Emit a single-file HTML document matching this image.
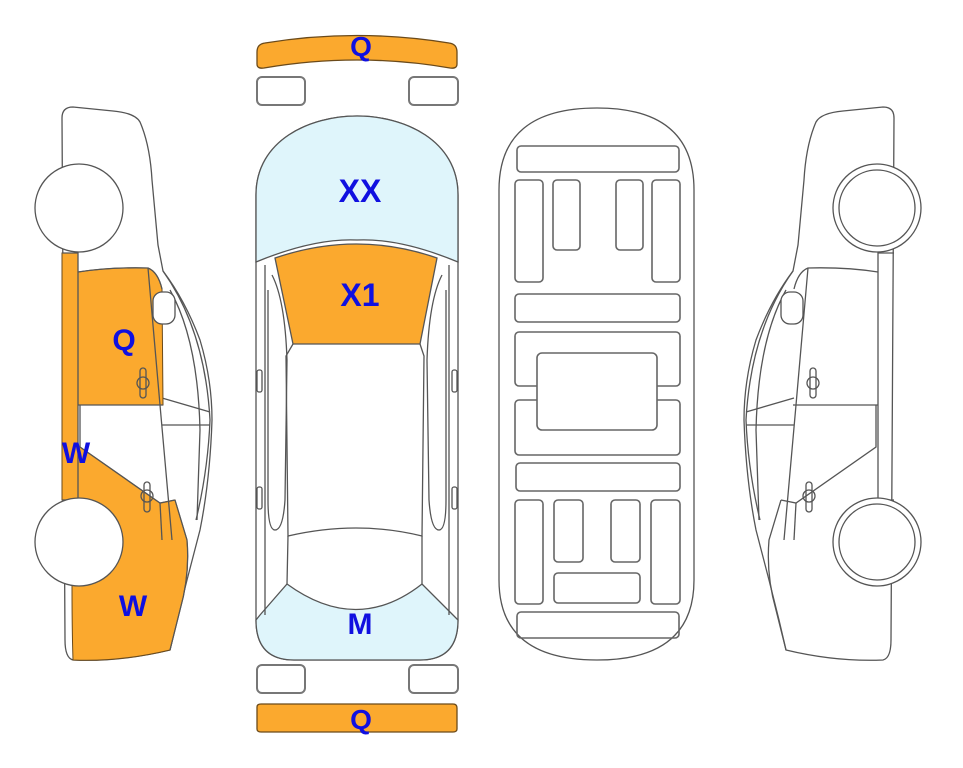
<!DOCTYPE html>
<html><head><style>
html,body{margin:0;padding:0;background:#fff;}
svg{display:block;}
text{font-family:"Liberation Sans",Arial,sans-serif;font-weight:bold;fill:#1010e0;text-anchor:middle;}
</style></head><body>
<svg width="963" height="768" viewBox="0 0 963 768" xmlns="http://www.w3.org/2000/svg">
<defs>
<g id="panels">
<path d="M62,253 L78,253 L78,500 M62,500 L78,500"/>
<path d="M78,272 Q110,267 148,268 Q158,272 162,289 M148,268 L160,405 L172,540 M78,405 L163,405 M80,405 L80,447 L160,503 L175,500"/>
<path d="M175,500 L187,540 Q190,575 180,610 L170,650"/>
<path d="M160,503 L162,540"/>
<rect x="140" y="368" width="6" height="30" rx="3"/>
<circle cx="143" cy="383" r="6"/>
<rect x="144" y="482" width="6" height="30" rx="3"/>
<circle cx="147" cy="496" r="6"/>
<rect x="153" y="292" width="22" height="32" rx="9" fill="#fff"/>
</g>
<g id="side">
<path d="M62,118 Q62,107 73,107 L113,111 Q135,113 140,122 Q150,145 152,180 L158,245 L163,271 Q185,300 200,340 Q212,380 212,420 Q210,480 200,530 L187,580 L177,620 L170,650 Q120,662 73,660 Q65,658 65,640 Z" fill="#fff"/>
<path d="M163,271 Q205,330 210,420 Q208,470 196,520"/>
<path d="M170,290 Q198,340 200,430 L197,520"/>
<path d="M162,398 L210,412 M162,425 L210,425"/>
</g>
</defs>
<g stroke="#555" stroke-width="1.3" fill="none">
<!-- bumpers -->
<path d="M257,52 Q257,44 265,43 Q357,28 449,43 Q457,44 457,52 L457,64 Q457,69 450,68 Q357,52 264,68 Q257,69 257,64 Z" fill="#fba92e" stroke="#6b4a1a"/>
<path d="M257,707 Q257,704 261,704 L453,704 Q457,704 457,708 L457,729 Q457,732 453,732 L261,732 Q257,732 257,729 Z" fill="#fba92e" stroke="#6b4a1a"/>
<rect x="257" y="77" width="48" height="28" rx="5" stroke="#777" stroke-width="2"/>
<rect x="409" y="77" width="49" height="28" rx="5" stroke="#777" stroke-width="2"/>
<rect x="257" y="665" width="48" height="28" rx="5" stroke="#777" stroke-width="2"/>
<rect x="409" y="665" width="49" height="28" rx="5" stroke="#777" stroke-width="2"/>

<!-- center car -->
<path d="M256,195 C256,140 310,116 357,116 C404,116 458,140 458,195 L458,620 Q458,660 420,660 L294,660 Q256,660 256,620 Z" fill="#fff"/>
<path d="M256,195 C256,140 310,116 357,116 C404,116 458,140 458,195 L458,262 Q400,238 357,240 Q314,238 256,262 Z" fill="#dff5fb"/>
<path d="M275,258 Q357,230 437,258 L420,344 L293,344 Z" fill="#fba92e"/>
<path d="M260,615 L287,584 Q357,635 422,584 L453,615 L458,620 Q458,660 420,660 L294,660 Q256,660 256,620 Z" fill="#dff5fb"/>
<path d="M293,344 L286,356 L288,536 Q357,520 422,536 L424,356 L420,344"/>
<path d="M288,536 L287,584 M422,536 L422,584"/>
<path d="M265,265 L265,615 M449,265 L449,615"/>
<path d="M272,275 Q285,300 287,360 L285,500 Q283,530 275,530 Q268,530 268,500 L268,290"/>
<path d="M442,275 Q429,300 427,360 L429,500 Q431,530 439,530 Q446,530 446,500 L446,290"/>
<rect x="257" y="370" width="5" height="22" rx="2"/>
<rect x="452" y="370" width="5" height="22" rx="2"/>
<rect x="257" y="487" width="5" height="22" rx="2"/>
<rect x="452" y="487" width="5" height="22" rx="2"/>

<!-- chassis -->
<path d="M499,190 Q499,108 597,108 Q694,108 694,190 L694,580 Q694,660 597,660 Q499,660 499,580 Z" fill="#fff"/>
<g stroke="#666" stroke-width="1.6">
<rect x="517" y="146" width="162" height="26" rx="4"/>
<rect x="515" y="180" width="28" height="102" rx="4"/>
<rect x="553" y="180" width="27" height="70" rx="4"/>
<rect x="616" y="180" width="27" height="70" rx="4"/>
<rect x="652" y="180" width="28" height="102" rx="4"/>
<rect x="515" y="294" width="165" height="28" rx="4"/>
<rect x="515" y="332" width="165" height="54" rx="4"/>
<rect x="515" y="400" width="165" height="55" rx="4"/>
<rect x="537" y="353" width="120" height="77" rx="5" fill="#fff"/>
<rect x="516" y="463" width="164" height="28" rx="4"/>
<rect x="515" y="500" width="28" height="104" rx="4"/>
<rect x="554" y="500" width="29" height="62" rx="4"/>
<rect x="611" y="500" width="29" height="62" rx="4"/>
<rect x="651" y="500" width="29" height="104" rx="4"/>
<rect x="554" y="573" width="86" height="30" rx="4"/>
<rect x="517" y="612" width="162" height="26" rx="4"/>
</g>

<!-- left car -->
<use href="#side"/>
<g fill="#fba92e" stroke="#6b4a1a" stroke-width="1">
<path d="M62,253 L78,253 L78,500 L62,500 Z"/>
<path d="M78,272 Q110,267 148,268 Q158,272 162,289 L163,405 L78,405 Z"/>
<path d="M78,447 L80,447 L160,503 L175,500 L187,540 Q190,575 180,610 L170,650 Q120,662 73,660 Q72,630 72,586 L72,500 L78,500 Z"/>
</g>
<use href="#panels"/>
<circle cx="79" cy="208" r="44" fill="#fff"/>
<circle cx="79" cy="542" r="44" fill="#fff"/>

<!-- right car (mirror) -->
<g transform="translate(956,0) scale(-1,1)">
<use href="#side"/>
<use href="#panels"/>
<circle cx="79" cy="208" r="44" fill="#fff"/>
<circle cx="79" cy="542" r="44" fill="#fff"/>
<circle cx="79" cy="208" r="38"/>
<circle cx="79" cy="542" r="38"/>
</g>
</g>

<text x="361" y="56" font-size="28">Q</text>
<text x="361" y="729" font-size="28">Q</text>
<text x="360" y="202" font-size="32">XX</text>
<text x="360" y="306" font-size="32">X1</text>
<text x="360" y="634" font-size="30">M</text>
<text x="124" y="350" font-size="30">Q</text>
<text x="76" y="463" font-size="30">W</text>
<text x="133" y="616" font-size="30">W</text>
</svg>
</body></html>
